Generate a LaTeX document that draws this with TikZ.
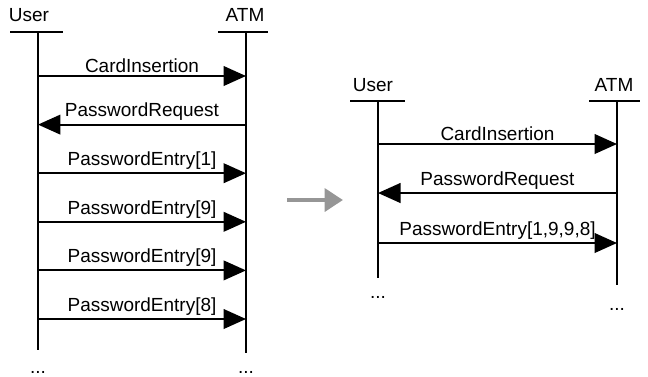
\documentclass[tikz,border=0pt]{standalone}
\usepackage{fontspec}
\setmainfont{Liberation Sans}
\usepackage{xcolor}
\definecolor{seq_grey}{RGB}{150, 150, 150}
\usetikzlibrary{arrows.meta, positioning}

\begin{document}
\begin{tikzpicture}[font=\fontsize{13.5}{15}\selectfont,
    life/.style={line width=1.4pt},
    msg/.style={-{Triangle[length=16pt, width=14pt]}, line width=1.4pt},
    lbl/.style={above=1pt, inner sep=1pt}]
  \useasboundingbox (0,0) rectangle (16.2,-9.4);
  % left: one message per digit
  \node (userL) at (0.725,-0.375) {User};
  \node (atmL) at (6.125,-0.375) {ATM};
  \coordinate (userLtop) at (0.95,-0.8);
  \coordinate (atmLtop) at (6.15,-0.8);
  \coordinate (userLbot) at (0.95,-8.75);
  \coordinate (atmLbot) at (6.15,-8.825);
  \draw[life] (0.25,-0.8) coordinate (userLa) -- (1.575,-0.8) coordinate (userLb);
  \draw[life] (5.45,-0.8) coordinate (atmLa) -- (6.7,-0.8) coordinate (atmLb);
  \draw[life] (userLtop) -- (userLbot);
  \draw[life] (atmLtop) -- (atmLbot);
  \foreach \i/\y in {1/1.9, 2/3.115, 3/4.33, 4/5.545, 5/6.76, 6/7.975} {
    \coordinate (lu\i) at (0.95,-\y);
    \coordinate (la\i) at (6.15,-\y);
  }
  \draw[msg] (lu1) -- node[lbl] {CardInsertion} (la1);
  \draw[msg] (la2) -- node[lbl] {PasswordRequest} (lu2);
  \draw[msg] (lu3) -- node[lbl] {PasswordEntry[1]} (la3);
  \draw[msg] (lu4) -- node[lbl] {PasswordEntry[9]} (la4);
  \draw[msg] (lu5) -- node[lbl] {PasswordEntry[9]} (la5);
  \draw[msg] (lu6) -- node[lbl] {PasswordEntry[8]} (la6);
  \node (userLdots) at (0.95,-9.3) {...};
  \node (atmLdots) at (6.15,-9.3) {...};

  % grey arrow between the two
  \coordinate (gapA) at (7.175,-5.0);
  \coordinate (gapB) at (8.575,-5.0);
  \draw[-{Triangle[length=13pt, width=16pt]}, line width=3.5pt, seq_grey] (gapA) -- (gapB);

  % right: digits merged into one message
  \node (userR) at (9.325,-2.125) {User};
  \node (atmR) at (15.35,-2.125) {ATM};
  \coordinate (userRtop) at (9.45,-2.525);
  \coordinate (atmRtop) at (15.425,-2.525);
  \coordinate (userRbot) at (9.45,-6.95);
  \coordinate (atmRbot) at (15.425,-7.125);
  \draw[life] (8.75,-2.525) coordinate (userRa) -- (10.125,-2.525) coordinate (userRb);
  \draw[life] (14.725,-2.525) coordinate (atmRa) -- (16.0,-2.525) coordinate (atmRb);
  \draw[life] (userRtop) -- (userRbot);
  \draw[life] (atmRtop) -- (atmRbot);
  \foreach \i/\y in {1/3.6, 2/4.825, 3/6.075} {
    \coordinate (ru\i) at (9.45,-\y);
    \coordinate (ra\i) at (15.425,-\y);
  }
  \draw[msg] (ru1) -- node[lbl] {CardInsertion} (ra1);
  \draw[msg] (ra2) -- node[lbl] {PasswordRequest} (ru2);
  \draw[msg] (ru3) -- node[lbl] {PasswordEntry[1,9,9,8]} (ra3);
  \node (userRdots) at (9.45,-7.425) {...};
  \node (atmRdots) at (15.425,-7.725) {...};
\end{tikzpicture}
\end{document}
